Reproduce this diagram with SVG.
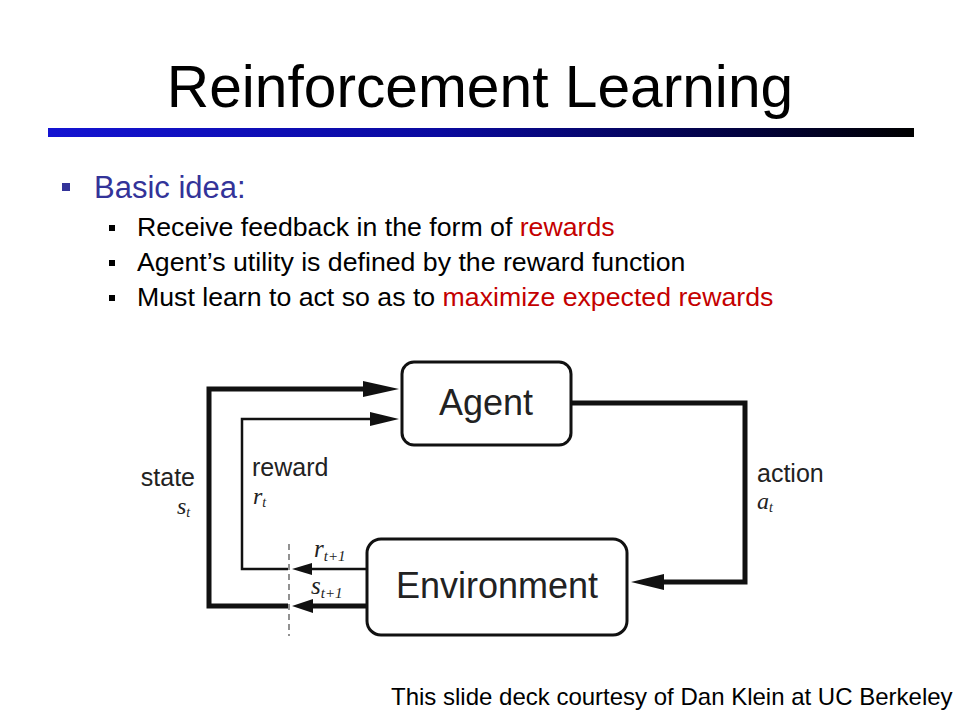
<svg xmlns="http://www.w3.org/2000/svg" width="960" height="720" viewBox="0 0 960 720">
<defs>
<linearGradient id="bar" x1="0" y1="0" x2="1" y2="0">
<stop offset="0" stop-color="#1414d2"/>
<stop offset="0.45" stop-color="#0a0aa0"/>
<stop offset="0.8" stop-color="#020240"/>
<stop offset="1" stop-color="#000000"/>
</linearGradient>
<style>
.sans{font-family:"Liberation Sans",Arial,sans-serif;}
.math{font-family:"Liberation Serif","Times New Roman",serif;font-style:italic;}
.red{fill:#c40000;}
.box{fill:#fff;stroke:#111;stroke-width:3;}
.thick{fill:none;stroke:#111;stroke-width:5;}
.thin{fill:none;stroke:#111;stroke-width:2.5;}
.head{fill:#111;}
.lbl{font-family:"Liberation Sans",Arial,sans-serif;font-size:25px;fill:#222;}
</style>
</defs>
<rect width="960" height="720" fill="#fff"/>
<text class="sans" x="480" y="107" font-size="58.7" text-anchor="middle" fill="#000">Reinforcement Learning</text>
<rect x="48" y="128" width="866" height="9" fill="url(#bar)"/>
<rect x="62" y="183" width="8" height="8" fill="#333399"/>
<text class="sans" x="94" y="198" font-size="31" fill="#333399">Basic idea:</text>
<rect x="109" y="225" width="6" height="6" fill="#000"/>
<rect x="109" y="260" width="6" height="6" fill="#000"/>
<rect x="109" y="295" width="6" height="6" fill="#000"/>
<text class="sans" x="137" y="236" font-size="26.7" fill="#000">Receive feedback in the form of <tspan class="red">rewards</tspan></text>
<text class="sans" x="137" y="271" font-size="26.7" fill="#000">Agent’s utility is defined by the reward function</text>
<text class="sans" x="137" y="306" font-size="26.7" fill="#000">Must learn to act so as to <tspan class="red">maximize expected rewards</tspan></text>
<g id="connectors">
<path class="thick" d="M288 606 H209 V389 H366"/>
<polygon class="head" points="399,389 363,381 363,397"/>
<path class="thin" d="M288 569 H242 V419 H372"/>
<polygon class="head" points="399,419 370,412 370,426"/>
<path class="thick" d="M571 403 H745 V582 H662"/>
<polygon class="head" points="631,582 664,574 664,590"/>
<path class="thin" d="M367 569 H310"/>
<polygon class="head" points="292,569 312,563 312,575"/>
<path class="thick" d="M367 606 H310"/>
<polygon class="head" points="292,606 313,599 313,613"/>
<line x1="289" y1="544" x2="289" y2="636" stroke="#777" stroke-width="1.6" stroke-dasharray="6,4"/>
</g>
<g id="agent">
<rect class="box" x="402" y="362" width="169" height="83" rx="12"/>
<text class="sans" x="486" y="415" font-size="36" text-anchor="middle" fill="#222">Agent</text>
</g>
<g id="environment">
<rect class="box" x="367" y="539" width="260" height="96" rx="14"/>
<text class="sans" x="497" y="598" font-size="36" text-anchor="middle" fill="#222">Environment</text>
</g>
<g id="labels">
<text class="lbl" x="195" y="486" text-anchor="end">state</text>
<text class="math" x="177" y="514" font-size="24" fill="#222">s<tspan font-size="14" dy="3">t</tspan></text>
<text class="lbl" x="252" y="476">reward</text>
<text class="math" x="253" y="504" font-size="24" fill="#222">r<tspan font-size="14" dy="3">t</tspan></text>
<text class="lbl" x="757" y="482">action</text>
<text class="math" x="757" y="509" font-size="24" fill="#222">a<tspan font-size="14" dy="3">t</tspan></text>
<text class="math" x="314" y="557" font-size="25" fill="#222">r<tspan font-size="15" dy="4">t+1</tspan></text>
<text class="math" x="311" y="594" font-size="25" fill="#222">s<tspan font-size="15" dy="4">t+1</tspan></text>
</g>
<text class="sans" x="391" y="705" font-size="24" fill="#000">This slide deck courtesy of Dan Klein at UC Berkeley</text>
</svg>
